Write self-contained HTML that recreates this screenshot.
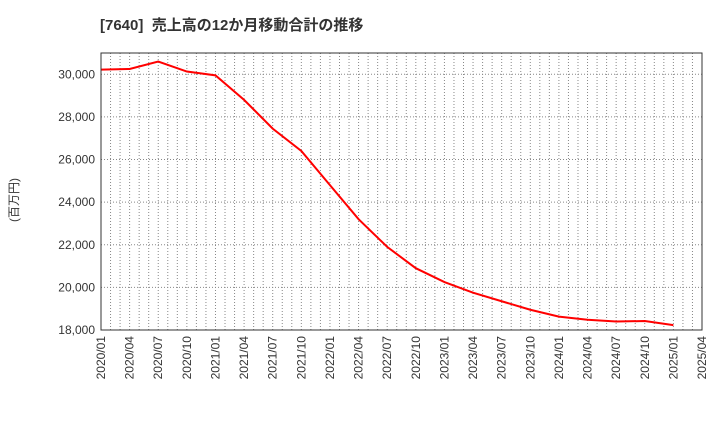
<!DOCTYPE html>
<html><head><meta charset="utf-8"><style>
body{margin:0;background:#fff;font-family:"Liberation Sans","Noto Sans CJK JP",sans-serif}
</style></head><body>
<svg width="720" height="440" xmlns="http://www.w3.org/2000/svg">
<text x="100" y="30" font-size="15" font-weight="bold" fill="#333" style="white-space:pre" font-family="Liberation Sans, Noto Sans CJK JP, sans-serif">[7640]  売上高の12か月移動合計の推移</text>
<text transform="translate(18,200) rotate(-90)" font-size="12" fill="#333" text-anchor="middle" font-family="Liberation Sans, Noto Sans CJK JP, sans-serif">(百万円)</text>
<g id="grid"></g><g id="axes"></g><g id="series"></g>
<rect x="101" y="53" width="601" height="277" fill="none" stroke="#333" stroke-width="1"/>
</svg>
<script>
const categories=["2020/01","2020/04","2020/07","2020/10","2021/01","2021/04","2021/07","2021/10","2022/01","2022/04","2022/07","2022/10","2023/01","2023/04","2023/07","2023/10","2024/01","2024/04","2024/07","2024/10","2025/01"];
const values=[30220,30250,30600,30130,29950,28800,27450,26400,24800,23200,21900,20900,20250,19750,19350,18950,18630,18480,18400,18420,18230];
const xTickLabels=["2020/01","2020/04","2020/07","2020/10","2021/01","2021/04","2021/07","2021/10","2022/01","2022/04","2022/07","2022/10","2023/01","2023/04","2023/07","2023/10","2024/01","2024/04","2024/07","2024/10","2025/01","2025/04"];
const yTicks=[18000,20000,22000,24000,26000,28000,30000];
const NS="http://www.w3.org/2000/svg";
const L=101,R=702,T=53,B=330,yMin=18000,yMax=31000,nQ=21;
const x=i=>L+(R-L)*i/nQ;
const y=v=>B-(v-yMin)/(yMax-yMin)*(B-T);
function mk(tag,attrs,parent){const e=document.createElementNS(NS,tag);for(const k in attrs)e.setAttribute(k,attrs[k]);parent.appendChild(e);return e;}
const grid=document.getElementById('grid'),axes=document.getElementById('axes'),series=document.getElementById('series');
for(let m=1;m<nQ*3;m++){const xx=L+(R-L)*m/(nQ*3);
const g=mk('line',{x1:xx,x2:xx,y1:T,y2:B,stroke:'#888','stroke-dasharray':'1,2','stroke-width':1},grid);

}
yTicks.forEach(v=>{const yy=y(v);
const g=mk('line',{x1:L,x2:R,y1:yy,y2:yy,stroke:'#888','stroke-dasharray':'1,2','stroke-width':1},grid);


const t=mk('text',{x:L-6,y:yy+4,'font-size':12,'text-anchor':'end',fill:'#333'},axes);t.textContent=v.toLocaleString('en-US');

});
xTickLabels.forEach((s,i)=>{const xx=x(i);
const t=mk('text',{transform:`translate(${xx+4},${B+6}) rotate(-90)`,'font-size':12,'text-anchor':'end',fill:'#333'},axes);t.textContent=s;

});
const p=mk('polyline',{points:values.map((v,i)=>x(i)+','+y(v)).join(' '),fill:'none',stroke:'#f00','stroke-width':2},series);


</script>
</body></html>
